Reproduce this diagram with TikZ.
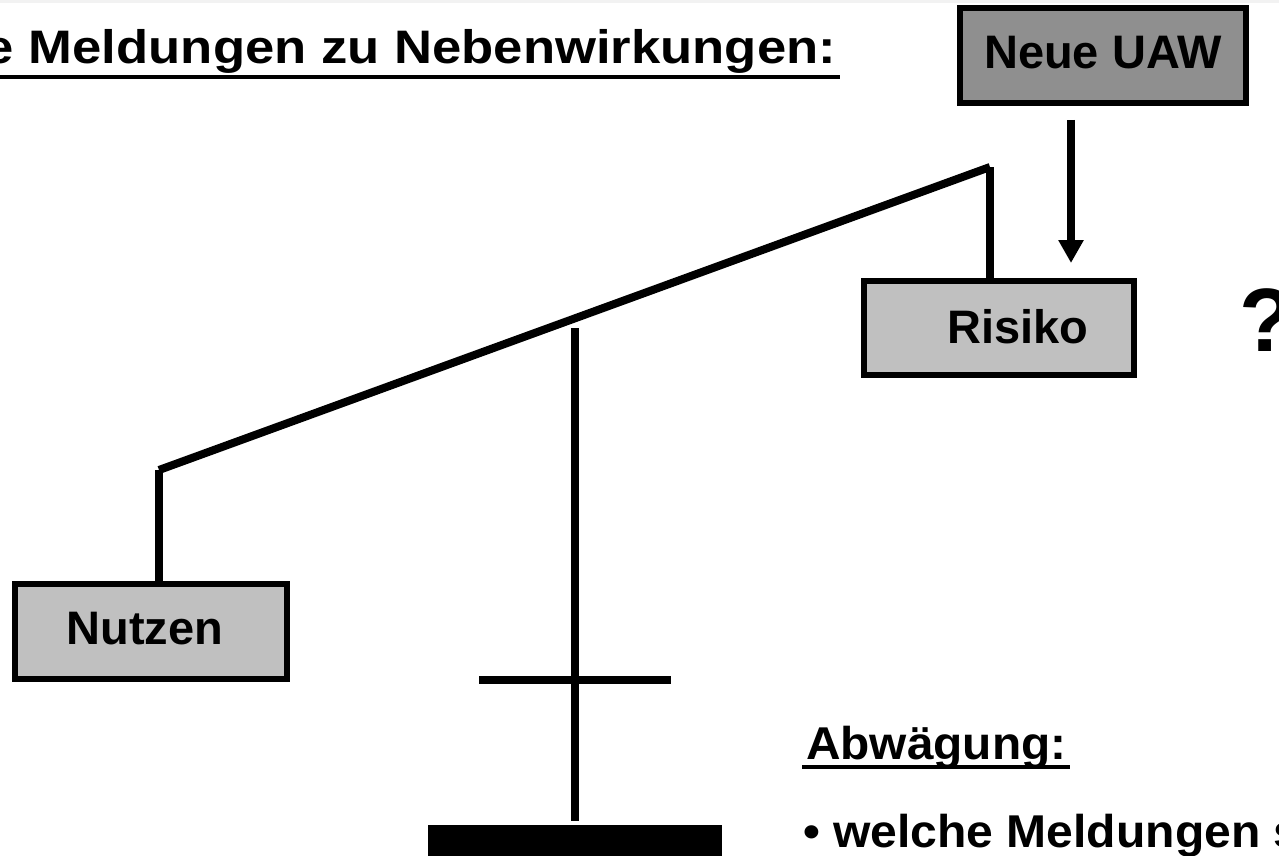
\documentclass[tikz,border=0pt]{standalone}
\usepackage{fontspec}
\setmainfont{Liberation Sans}
\usetikzlibrary{arrows.meta,positioning,calc}
\definecolor{uawgrey}{HTML}{8F8F8F}
\definecolor{boxgrey}{HTML}{C0C0C0}
\definecolor{edgegrey}{HTML}{F2F2F2}
\tikzset{
    every picture/.style={line width=8pt},
    scalebox/.style={draw=black, line width=6.5pt, inner sep=0pt,
        font=\bfseries\fontsize{47}{54}\selectfont},
    beam/.style={line width=8pt},
    headline/.style={inner sep=0pt, font=\bfseries\fontsize{44}{50}\selectfont},
}

\begin{document}
\begin{tikzpicture}[x=1pt, y=-1pt]
    \useasboundingbox (0,0) rectangle (1279,856);
    \clip (0,0) rectangle (1279,856);
    \fill[edgegrey] (0,0) rectangle (1279,3);

    % title
    \node[headline, font=\bfseries\fontsize{47}{54}\selectfont, anchor=base east] (title) at (840,64)
        {\scalebox{1.12}[1]{e Meldungen zu Nebenwirkungen:}};
    \draw[line width=4pt] ([yshift=-13pt]title.base west) -- ([yshift=-13pt]title.base east);

    % boxes
    \node[scalebox, fill=uawgrey, minimum width=286pt, minimum height=95pt] (uaw) at (1103,55.5)
        {\raisebox{6pt}{Neue UAW}};
    \node[scalebox, fill=boxgrey, minimum width=270pt, minimum height=94pt] (risiko) at (999,328)
        {\hspace*{38pt}\raisebox{3pt}{Risiko}};
    \node[scalebox, fill=boxgrey, minimum width=272pt, minimum height=95pt] (nutzen) at (151,631.5)
        {\raisebox{6pt}{Nutzen}\hspace*{12pt}};
    \node[headline, font=\bfseries\fontsize{90}{100}\selectfont, anchor=base west] (frage) at (1235,351) {?};

    % balance
    \coordinate (lend) at (159,470);
    \coordinate (rend) at (990,167);
    \coordinate (pivot) at (575,328);
    \coordinate (crossl) at (479,680);
    \coordinate (crossr) at (671,680);
    \node[fill=black, inner sep=0pt, minimum width=294pt, minimum height=40pt, anchor=north] (sockel) at (575,821) {};
    \draw[beam] (lend) -- (rend);
    \draw[beam] (lend) -- (lend |- nutzen.north);
    \draw[beam] (rend) -- (rend |- risiko.north);
    \draw[beam] (pivot) -- (sockel.north);
    \draw[beam] (crossl) -- (crossr);

    % new signal
    \coordinate (arrtop) at (1071,120);
    \coordinate (arrtip) at (1071,263);
    \draw[line width=7.5pt, -{Triangle[length=23pt, width=24pt]}] (arrtop) -- (arrtip);

    % weighing
    \node[headline, font=\bfseries\fontsize{46}{52}\selectfont, anchor=base west] (abw) at (802,759)
        {\scalebox{1.04}[1]{Abwägung:}};
    \draw[line width=3.5pt] ([yshift=-8pt]abw.base west) -- ([yshift=-8pt]abw.base east);
    \node[headline, font=\bfseries\fontsize{46}{52}\selectfont, anchor=base west] (punkt) at (799,847)
        {\scalebox{1.045}[1]{\textbullet\ welche Meldungen s}};
\end{tikzpicture}
\end{document}
